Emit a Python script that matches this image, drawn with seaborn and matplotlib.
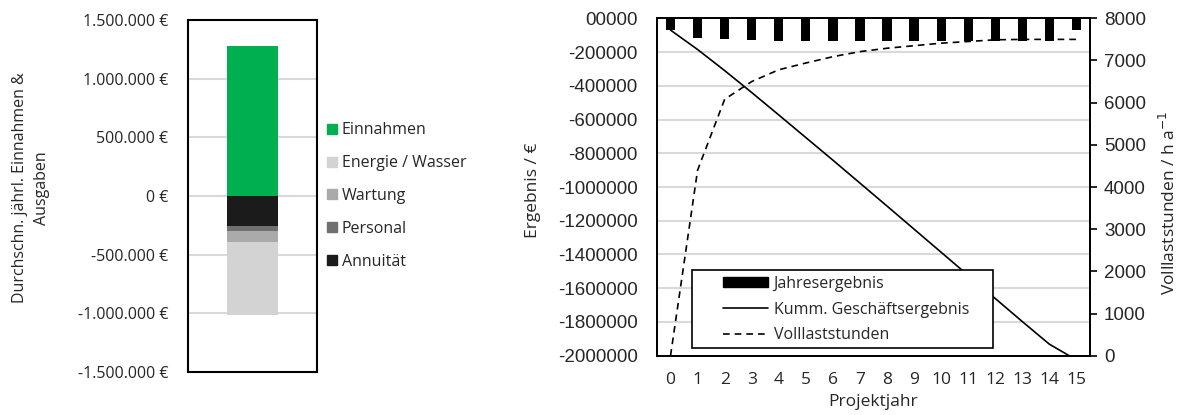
import numpy as np
import matplotlib
matplotlib.use("Agg")
import matplotlib.pyplot as plt
import seaborn as sns
from matplotlib.lines import Line2D
from matplotlib.patches import Patch, Rectangle

# left chart: average yearly income & expenses
einnahmen = 1280000
ausgaben_namen = ["Annuität", "Personal", "Wartung", "Energie / Wasser"]
ausgaben_werte = [256000, 42000, 96000, 620000]
ausgaben_farben = ["#1b1b1b", "#707070", "#aaaaaa", "#d3d3d3"]
legend_order = ["Einnahmen", "Energie / Wasser", "Wartung", "Personal", "Annuität"]

# right chart: per project year
jahre = list(range(16))
jahresergebnis = [-70000, -115000, -125000, -130000, -133000, -134000, -134000, -136000,
                  -136000, -137000, -137000, -137000, -137000, -137000, -137000, -69000]
kumm_ergebnis = [-70000, -185000, -310000, -440000, -573000, -707000, -841000, -977000,
                 -1113000, -1250000, -1387000, -1524000, -1661000, -1798000, -1932000, -2025000]
volllaststunden = [0, 4400, 6080, 6500, 6780, 6940, 7090, 7210,
                   7290, 7350, 7410, 7450, 7490, 7500, 7500, 7500]

sns.set_style("white")
plt.rcParams["font.family"] = ["Open Sans", "DejaVu Sans"]
num_font = "Liberation Sans"
fs = 11.5

fig = plt.figure(figsize=(11.83, 4.15), dpi=100)

# ---------- left ----------
ax1 = fig.add_axes([188/1183, 1-372/415, 129/1183, 352/415])
stack = np.cumsum(ausgaben_werte)
for i in range(len(stack)-1, -1, -1):
    sns.barplot(x=[0], y=[-stack[i]], color=ausgaben_farben[i], width=0.4,
                saturation=1, linewidth=0, ax=ax1, zorder=3)
sns.barplot(x=[0], y=[einnahmen], color="#00b050", width=0.4, saturation=1,
            linewidth=0, ax=ax1, zorder=3)
ax1.set_xlim(-0.5, 0.5)
ax1.set_ylim(-1500000, 1500000)
yt = np.arange(-1500000, 1500001, 500000)
ax1.set_yticks(yt)
ax1.set_yticklabels([f"{v:,.0f} €".replace(",", ".") for v in yt], fontsize=fs)
ax1.set_xticks([])
ax1.set_xlabel("")
for v in yt[1:-1]:
    ax1.axhline(v, color="#d9d9d9", lw=1.5, zorder=1)
for s in ax1.spines.values():
    s.set_color("black")
    s.set_linewidth(1.5)
ax1.tick_params(axis="y", length=0, pad=14)
ax1.set_ylabel("Durchschn. jährl. Einnahmen &\nAusgaben", fontsize=fs, linespacing=1.5,
               multialignment="center")
ax1.yaxis.set_label_coords((50-188)/129, (372-188)/352)

farbe = dict(zip(ausgaben_namen, ausgaben_farben))
farbe["Einnahmen"] = "#00b050"
h1 = [Line2D([], [], marker="s", ls="", color=farbe[n], markersize=7.5) for n in legend_order]
fig.legend(h1, legend_order, loc="center left", bbox_to_anchor=(326/1183, 1-196/415),
           frameon=False, fontsize=fs, handletextpad=0.3, labelspacing=1.05,
           handlelength=0.7, borderpad=0, borderaxespad=0)

# ---------- right ----------
ax2 = fig.add_axes([657/1183, 1-355.7/415, 433/1183, 337.4/415])
sns.barplot(x=jahre, y=jahresergebnis, color="black", width=0.34, saturation=1,
            linewidth=0, ax=ax2, zorder=3)
sns.lineplot(x=jahre, y=kumm_ergebnis, color="black", lw=1.2, ax=ax2, zorder=4)
ax2.set_xlim(-0.5, 15.5)
ax2.set_ylim(-2000000, 0)
yt2 = np.arange(-2000000, 1, 200000)
ax2.set_yticks(yt2)
ax2.set_yticklabels([str(v) for v in yt2[:-1]] + ["00000"], fontsize=13.5, family=num_font)
for v in yt2[1:-1]:
    ax2.axhline(v, color="#d9d9d9", lw=1.5, zorder=1)
ax2.set_xticks(jahre)
ax2.set_xticklabels([str(j) for j in jahre], fontsize=12.5)
ax2.tick_params(axis="both", length=0)
ax2.tick_params(axis="y", pad=14)
ax2.tick_params(axis="x", pad=12)
ax2.set_xlabel("Projektjahr", fontsize=12.5)
ax2.xaxis.set_label_coords(0.5, (355.7-394)/337.4)
ax2.set_ylabel("Ergebnis / €", fontsize=12.5)
ax2.yaxis.set_label_coords((541-657)/433, (355.7-190)/337.4)

ax3 = ax2.twinx()
sns.lineplot(x=jahre, y=volllaststunden, color="black", lw=1.2, ls=(0, (4, 3)), ax=ax3)
ax3.set_ylim(0, 8000)
ax3.set_yticks(np.arange(0, 8001, 1000))
ax3.set_yticklabels([str(v) for v in range(0, 8001, 1000)], fontsize=13.5, family=num_font)
ax3.tick_params(axis="y", direction="out", length=5, width=1.2, color="black", pad=5)
ax3.set_ylabel("Volllaststunden / h a$^{-1}$", fontsize=12.5)
ax3.yaxis.set_label_coords((1159-657)/433, (355.7-203)/337.4)
for ax in (ax2, ax3):
    for s in ax.spines.values():
        s.set_color("black")
        s.set_linewidth(1.3)

# legend box (Excel-style, handles indented)
box = Rectangle(((692-657)/433, (355.7-348)/337.4), (993-692)/433, (348-270)/337.4,
                transform=ax3.transAxes, facecolor="white", edgecolor="black",
                lw=1.2, zorder=9)
ax3.add_patch(box)
h2 = [Patch(facecolor="black", edgecolor="black"),
      Line2D([], [], color="black", lw=1.2),
      Line2D([], [], color="black", lw=1.2, ls=(0, (4, 3)))]
leg = ax3.legend(h2, ["Jahresergebnis", "Kumm. Geschäftsergebnis", "Volllaststunden"],
                 loc="center left", bbox_to_anchor=((723-657)/433, (355.7-309.5)/337.4),
                 borderaxespad=0, borderpad=0, fontsize=fs, frameon=False,
                 handlelength=2.8, handleheight=0.62, handletextpad=0.37,
                 labelspacing=0.62)
leg.set_zorder(10)

fig.savefig("out.png", dpi=100)
